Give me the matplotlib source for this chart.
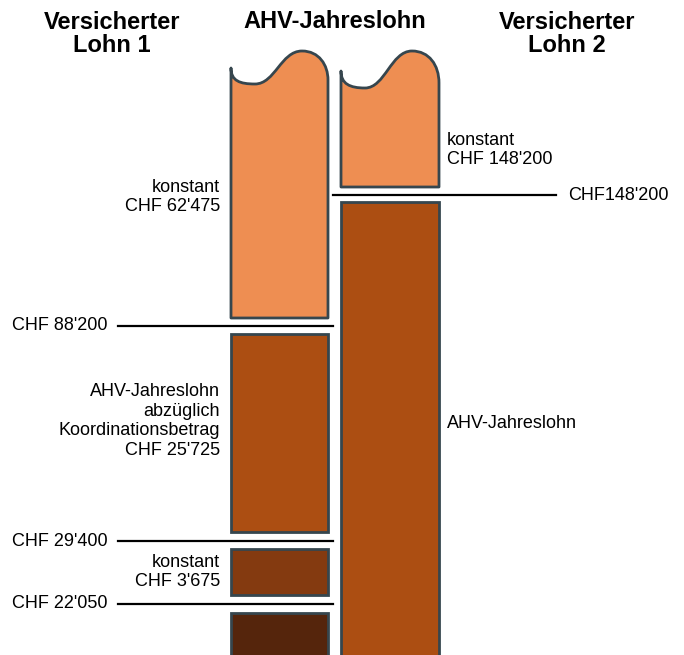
import matplotlib
matplotlib.use("Agg")
import matplotlib.pyplot as plt
from matplotlib.path import Path
from matplotlib.patches import PathPatch, Rectangle

plt.rcParams['font.family'] = ['Liberation Sans', 'DejaVu Sans']

# ---- data ----
column_titles = ["Versicherter\nLohn 1", "AHV-Jahreslohn", "Versicherter\nLohn 2"]
thresholds = [22050, 29400, 88200, 148200]
threshold_labels = ["CHF 22'050", "CHF 29'400", "CHF 88'200", "CHF148'200"]
lohn1_segments = ["konstant\nCHF 3'675",
                  "AHV-Jahreslohn\nabzüglich\nKoordinationsbetrag\nCHF 25'725",
                  "konstant\nCHF 62'475"]
lohn2_segments = ["AHV-Jahreslohn", "konstant\nCHF 148'200"]

# ---- layout (schematic, pixels) ----
W, H = 684, 655
fig = plt.figure(figsize=(W / 100, H / 100), dpi=100)
ax = fig.add_axes([0, 0, 1, 1])
ax.set_xlim(0, W)
ax.set_ylim(H, 0)
ax.axis('off')

edge = '#36464e'
c_light = '#ee8e52'
c_brown = '#ac4e12'
c_mid = '#843a10'
c_dark = '#55250c'
elw = 2.0

# threshold y-levels (schematic)
level_y = {22050: 604, 29400: 541, 88200: 326, 148200: 195}

def rect(x0, x1, y0, y1, color):
    ax.add_patch(Rectangle((x0, y0), x1 - x0, y1 - y0, facecolor=color,
                           edgecolor=edge, lw=elw, zorder=2))

def wavy(x0, x1, ytop, ybot, color, dip, peak):
    verts = [(x0, ytop),
             (x0, ytop + 13), (x0 + 9, dip), (x0 + 24, dip),
             (x0 + 44, dip), (x0 + 50, peak), (x0 + 71, peak),
             (x0 + 88, peak), (x1, peak + 14), (x1, ytop + 12),
             (x1, ybot), (x0, ybot), (x0, ytop)]
    codes = [Path.MOVETO,
             Path.CURVE4, Path.CURVE4, Path.CURVE4,
             Path.CURVE4, Path.CURVE4, Path.CURVE4,
             Path.CURVE4, Path.CURVE4, Path.CURVE4,
             Path.LINETO, Path.LINETO, Path.CLOSEPOLY]
    ax.add_patch(PathPatch(Path(verts, codes), facecolor=color, edgecolor=edge,
                           lw=elw, zorder=2, joinstyle='round'))

# Lohn 1 column
L0, L1 = 231, 328
rect(L0, L1, 613, H + 10, c_dark)
rect(L0, L1, 549, 595, c_mid)
rect(L0, L1, 334, 532, c_brown)
wavy(L0, L1, 68, 318, c_light, dip=84, peak=51)

# Lohn 2 column
R0, R1 = 341, 439
rect(R0, R1, 202, H + 10, c_brown)
wavy(R0, R1, 71, 187, c_light, dip=88, peak=51)

# threshold lines
for t, lab in zip(thresholds, threshold_labels):
    y = level_y[t]
    if t == 148200:
        ax.plot([333, 556], [y, y], color='black', lw=1.6, zorder=3)
        ax.text(568, y, lab, fontsize=13, va='center', ha='left')
    else:
        ax.plot([118, 333], [y, y], color='black', lw=1.6, zorder=3)
        ax.text(12, y, lab, fontsize=13, va='center', ha='left')

# titles
ax.text(112, 34, column_titles[0], fontsize=17, fontweight='bold',
        ha='center', va='center', linespacing=1.05)
ax.text(335, 21, column_titles[1], fontsize=17, fontweight='bold',
        ha='center', va='center')
ax.text(567, 34, column_titles[2], fontsize=17, fontweight='bold',
        ha='center', va='center', linespacing=1.05)

# segment labels
ax.text(220, 572, lohn1_segments[0], fontsize=13, ha='right', va='center',
        linespacing=1.2)
ax.text(220, 421, lohn1_segments[1], fontsize=13, ha='right', va='center',
        linespacing=1.2)
ax.text(220, 197, lohn1_segments[2], fontsize=13, ha='right', va='center',
        linespacing=1.2)
ax.text(447, 424, lohn2_segments[0], fontsize=13, ha='left', va='center')
ax.text(447, 150, lohn2_segments[1], fontsize=13, ha='left', va='center',
        linespacing=1.2)

fig.savefig("out.png", dpi=100)
